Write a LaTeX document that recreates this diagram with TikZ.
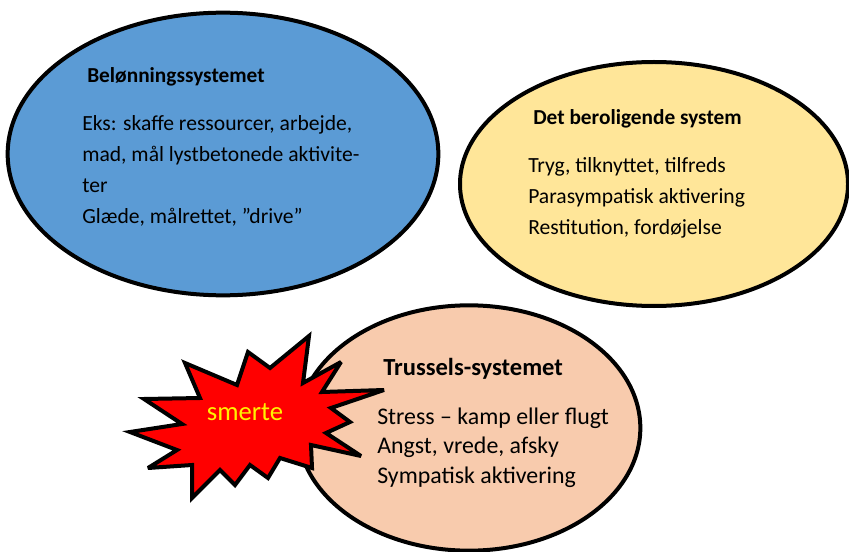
\documentclass[tikz,border=0pt]{standalone}
\usepackage{fontspec}
\setmainfont{Carlito}
\usetikzlibrary{shapes.geometric}

\definecolor{rewardblue}{HTML}{5B9BD5}
\definecolor{calmyellow}{HTML}{FFE699}
\definecolor{threatpeach}{HTML}{F8CBAD}

\begin{document}
\begin{tikzpicture}[x=0.75pt,y=-0.75pt,
    system/.style={draw,ellipse,line width=3pt,inner sep=0pt},
    heading/.style={anchor=base west,inner sep=0pt,font=\fontsize{16}{19}\selectfont\bfseries},
    body/.style={anchor=base west,inner sep=0pt,font=\fontsize{16.2}{19}\selectfont}]
  \useasboundingbox (0,0) rectangle (849,552);
  % the three systems
  \node[system,fill=rewardblue,minimum width=323pt,minimum height=212pt] (reward) at (223,154) {};
  \node[system,fill=calmyellow,minimum width=291pt,minimum height=183pt] (calm) at (654,184) {};
  \node[system,fill=threatpeach,minimum width=257pt,minimum height=184pt] (threat) at (469,428) {};
  % texts
  \node[heading] (rewardhead) at (87,83) {Belønningssystemet};
  \foreach \line [count=\i from 0] in {{Eks: skaffe ressourcer, arbejde,},{mad, mål lystbetonede aktivite-},ter,{Glæde, målrettet, ”drive”}}
    \node[body] (reward\i) at (82,131+31*\i) {\line};
  \node[heading] (calmhead) at (533,125) {Det beroligende system};
  \foreach \line [count=\i from 0] in {{Tryg, tilknyttet, tilfreds},Parasympatisk aktivering,{Restitution, fordøjelse}}
    \node[body] (calm\i) at (528,173+31*\i) {\line};
  \node[heading,font=\fontsize{18.4}{22}\selectfont\bfseries] (threathead) at (383,375) {Trussels-systemet};
  \foreach \line [count=\i from 0] in {Stress – kamp eller flugt,{Angst, vrede, afsky},Sympatisk aktivering}
    \node[body,font=\fontsize{17.9}{21}\selectfont] (threat\i) at (377,424+29.5*\i) {\line};
  % pain burst
  \draw[line width=3pt,fill=red,miter limit=4]
    (130,432) -- (182,424) -- (144,399) -- (200,398) -- (185,363) -- (237,385)
    -- (248,352) -- (270,368) -- (309,336) -- (303,383) -- (341,362) -- (322,392)
    -- (384,390) -- (331,408) -- (350,422) -- (326,433) -- (361,456) -- (311,445)
    -- (312,468) -- (280,458) -- (268,478) -- (250,465) -- (235,485) -- (220,470)
    -- (192,498) -- (192,465) -- (148,468) -- (177,450) -- cycle;
  \node[inner sep=0pt,text=yellow,font=\fontsize{20}{24}\selectfont] (pain) at (245,412) {smerte};
\end{tikzpicture}
\end{document}
